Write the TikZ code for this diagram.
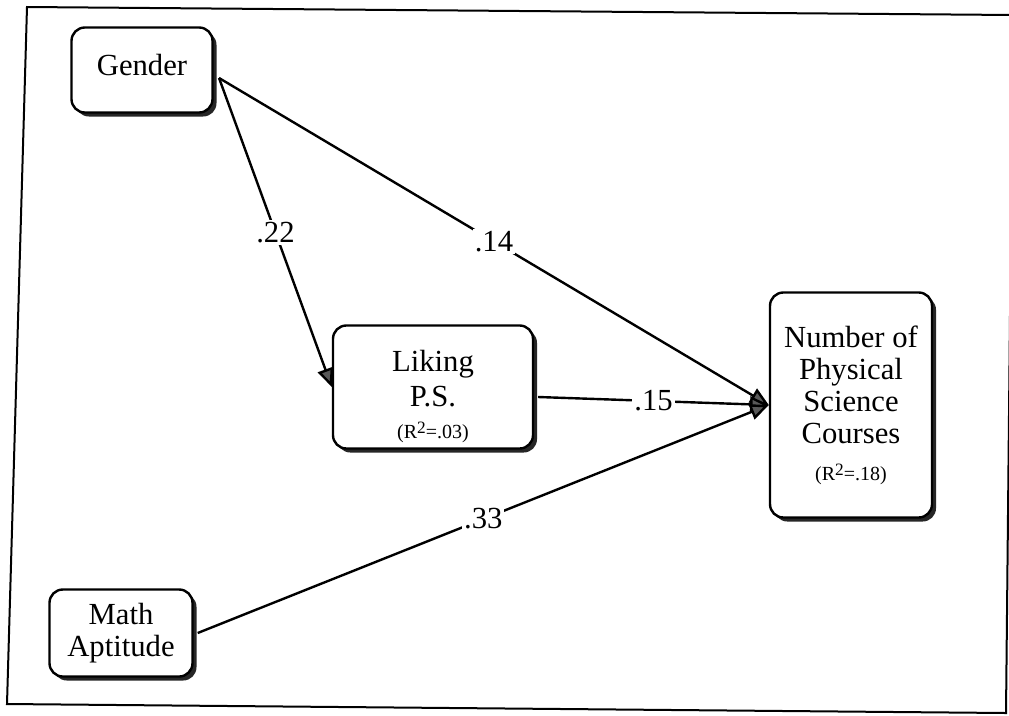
\documentclass[tikz,border=0pt]{standalone}
\usepackage{fontspec}
\setmainfont{Liberation Serif}
\usetikzlibrary{arrows.meta,shadows}
\newcommand\rsqfont{\fontsize{15}{16}\selectfont}
\newcommand\rsq[1]{{\rsqfont(R\raisebox{0.5ex}{\fontsize{13}{13}\selectfont 2}=#1)}}

\begin{document}
\begin{tikzpicture}[x=0.75pt,y=-0.75pt,
  var/.style={draw=black, line width=1.8pt, fill=white, rounded corners=10pt,
    align=center, inner sep=0pt,
    font=\fontsize{23}{24}\selectfont,
    drop shadow={shadow xshift=3pt, shadow yshift=-3pt, fill=black!85, opacity=1}},
  conn/.style={line width=1.8pt, -{Triangle[length=14pt,width=12pt,fill=black!65]}},
  coef/.style={fill=white, inner sep=1.5pt, font=\fontsize{23}{24}\selectfont}
]
\useasboundingbox (0,0) rectangle (1009,715);
\fill[white] (0,0) rectangle (1009,715);

% page frame
\begin{scope}
  \clip (0,0) rectangle (1009,715);
  \draw[line width=1.5pt] (27,7) -- (1013,15) -- (1006,713) -- (7,704) -- cycle;
\end{scope}

% variables
\node[var, minimum width=105.75pt, minimum height=63.75pt] (gen) at (142,70)
  {Gender\rule[-7pt]{0pt}{7pt}};
\node[var, minimum width=150pt, minimum height=92.25pt] (lik) at (433,387)
  {\rule{0pt}{30pt}Liking\\[2pt]P.S.\\[0pt]\rsq{.03}};
\node[var, minimum width=121.5pt, minimum height=168.75pt] (num) at (851,405)
  {Number of\\Physical\\Science\\Courses\\[4pt]\rsq{.18}};
\node[var, minimum width=107.25pt, minimum height=65.25pt] (math) at (121,633)
  {Math\\Aptitude};

% paths with coefficients
\draw[conn] ([shift={(4pt,-6pt)}]gen.east) -- node[coef] {.22} (lik.west);
\draw[conn] ([shift={(4pt,-6pt)}]gen.east) -- node[coef] {.14} (num.west);
\draw[conn] ([shift={(3pt,-7.5pt)}]lik.east) -- node[coef] {.15} (num.west);
\draw[conn] ([xshift=3pt]math.east) -- node[coef] {.33} (num.west);
\end{tikzpicture}
\end{document}
